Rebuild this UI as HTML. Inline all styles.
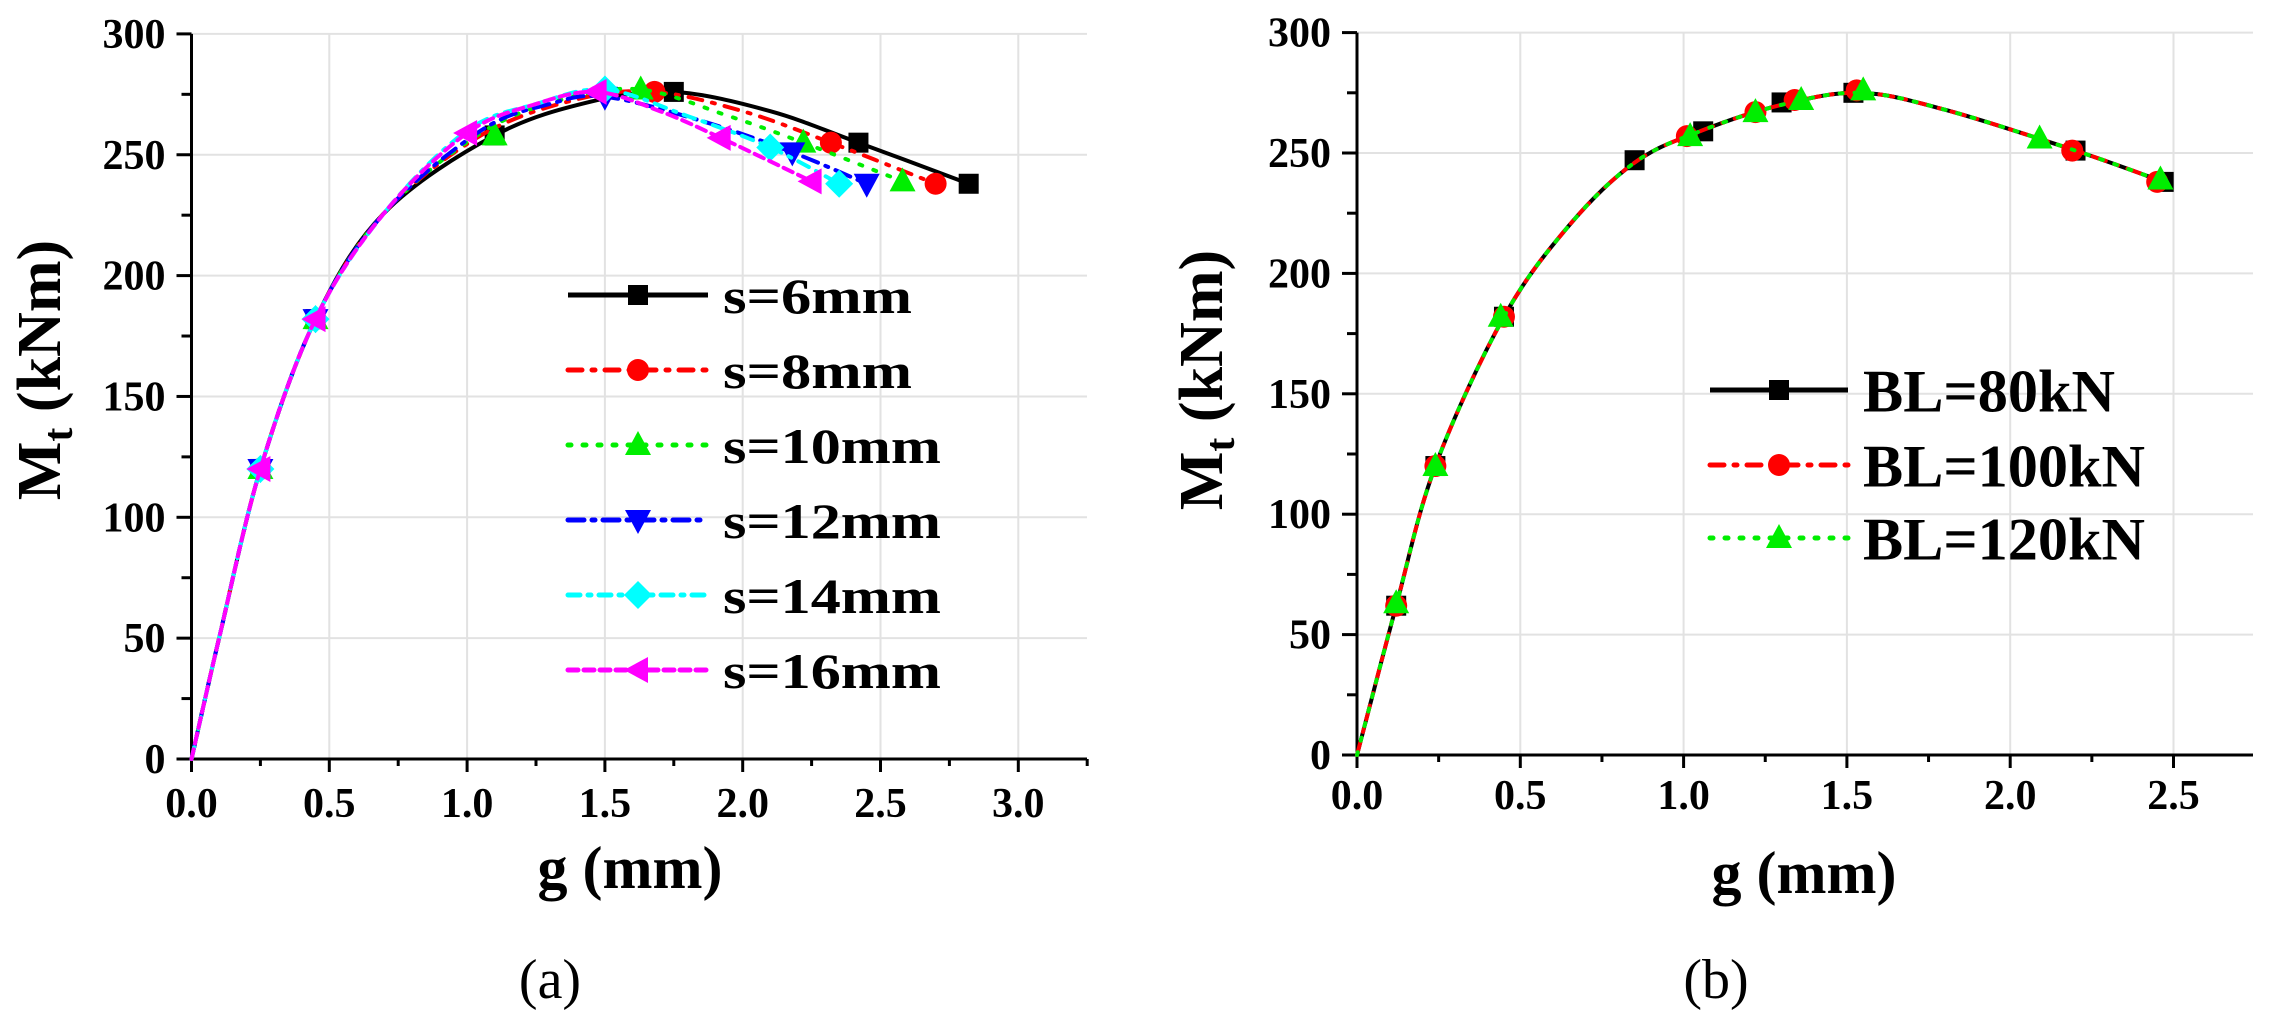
<!DOCTYPE html>
<html><head><meta charset="utf-8"><style>
html,body{margin:0;padding:0;background:#fff;}
svg{display:block;}
</style></head><body>
<svg id="s" width="2280" height="1023" viewBox="0 0 2280 1023" xmlns="http://www.w3.org/2000/svg">
<rect width="2280" height="1023" fill="#fff"/>
<g id="g"></g>
<text font-family="Liberation Serif" font-weight="700" x="630" y="888" font-size="60" text-anchor="middle">g (mm)</text>
<text font-family="Liberation Serif" font-weight="700" x="1804" y="893" font-size="60" text-anchor="middle">g (mm)</text>
<text font-family="Liberation Serif" x="550" y="998" font-size="56" text-anchor="middle">(a)</text>
<text font-family="Liberation Serif" x="1716" y="998" font-size="56" text-anchor="middle">(b)</text>
<text font-family="Liberation Serif" font-weight="700" transform="translate(60,370) rotate(-90)" font-size="62" text-anchor="middle">M<tspan font-size="42" dy="12">t</tspan><tspan dy="-12"> (kNm)</tspan></text>
<text font-family="Liberation Serif" font-weight="700" transform="translate(1222,380) rotate(-90)" font-size="62" text-anchor="middle">M<tspan font-size="42" dy="12">t</tspan><tspan dy="-12"> (kNm)</tspan></text>
</svg>
<script>
const NS="http://www.w3.org/2000/svg";
const G=document.getElementById('g');
function el(t,a){const e=document.createElementNS(NS,t);for(const k in a)e.setAttribute(k,a[k]);G.appendChild(e);return e;}
function txt(x,y,s,a){const e=el('text',Object.assign({x:x,y:y,'font-family':'Liberation Serif','font-weight':'700'},a));e.textContent=s;return e;}
function axes(P){
  const X=v=>P.x0+v*P.sx, Y=v=>P.y0-v*P.sy;
  for(let v=50;v<=300;v+=50) el('line',{x1:P.x0,x2:P.xe,y1:Y(v),y2:Y(v),stroke:'#e2e2e2','stroke-width':2});
  for(let v=0.5;v<=P.xm+1e-6;v+=0.5) el('line',{x1:X(v),x2:X(v),y1:Y(300),y2:P.y0,stroke:'#e2e2e2','stroke-width':2});
  el('line',{x1:P.x0,x2:P.x0,y1:Y(300),y2:P.y0,stroke:'#000','stroke-width':3});
  el('line',{x1:P.x0,x2:P.xe,y1:P.y0,y2:P.y0,stroke:'#000','stroke-width':3});
  for(let v=0;v<=300;v+=25){const maj=v%50==0;el('line',{x1:P.x0-(maj?15:10),x2:P.x0,y1:Y(v),y2:Y(v),stroke:'#000','stroke-width':3});
    if(maj) txt(P.x0-26,Y(v)+14,String(v),{'font-size':42,'text-anchor':'end'});}
  for(let v=0;v<=P.xm+0.26;v+=0.25){const maj=Math.abs(v*2-Math.round(v*2))<1e-6;const xx=X(v);if(xx>P.xe+1)break;
    el('line',{x1:xx,x2:xx,y1:P.y0,y2:P.y0+(maj?13:7),stroke:'#000','stroke-width':3});
    if(maj&&v<=P.xm+1e-6) txt(xx,P.ty,v.toFixed(1),{'font-size':42,'text-anchor':'middle'});}
  return [X,Y];
}
function cr(pts){let d='M'+pts[0][0]+','+pts[0][1];
  for(let i=0;i<pts.length-1;i++){const p0=pts[i-1]||pts[i],p1=pts[i],p2=pts[i+1],p3=pts[i+2]||p2;
    const c1=[p1[0]+(p2[0]-p0[0])/6,p1[1]+(p2[1]-p0[1])/6],c2=[p2[0]-(p3[0]-p1[0])/6,p2[1]-(p3[1]-p1[1])/6];
    d+=' C'+c1+' '+c2+' '+p2;}return d;}
function marker(t,x,y,c){
  if(t=='sq') el('rect',{x:x-10,y:y-10,width:20,height:20,fill:c});
  else if(t=='ci') el('circle',{cx:x,cy:y,r:11,fill:c});
  else if(t=='tu') el('polygon',{points:`${x},${y-14} ${x-13},${y+10} ${x+13},${y+10}`,fill:c});
  else if(t=='td') el('polygon',{points:`${x},${y+14} ${x-13},${y-10} ${x+13},${y-10}`,fill:c});
  else if(t=='di') el('polygon',{points:`${x},${y-14} ${x-14},${y} ${x},${y+14} ${x+14},${y}`,fill:c});
  else if(t=='tl') el('polygon',{points:`${x-14},${y} ${x+10},${y-13} ${x+10},${y+13}`,fill:c});
}
function series(X,Y,S){
  const pts=S.c.map(p=>[+X(p[0]).toFixed(1),+Y(p[1]).toFixed(1)]);
  el('path',{d:cr(pts),fill:'none',stroke:S.col,'stroke-width':4,'stroke-dasharray':S.da||'none','stroke-linecap':S.da?'round':'butt'});
  S.m.forEach(p=>marker(S.mk,X(p[0]),Y(p[1]),S.col));
}
function legend(x1,x2,xm,xt,y,S,label,fs,tl){
  el('line',{x1:x1,x2:x2,y1:y,y2:y,stroke:S.col,'stroke-width':5,'stroke-dasharray':S.da||'none','stroke-linecap':S.da?'round':'butt'});
  marker(S.mk,xm,y,S.col);
  const a={'font-size':fs,'text-anchor':'start'};if(tl){a.textLength=tl;a.lengthAdjust='spacingAndGlyphs';}
  txt(xt,y+fs*0.36,label,a);
}
const base=[[0,0],[0.1,50],[0.25,120],[0.45,182],[0.7,226]];
const A=[
 {col:'#000',mk:'sq',c:base.concat([[1.1,258],[1.45,272],[1.75,276],[2.1,268],[2.42,255],[2.82,238]]),m:[[0.25,120],[0.45,182],[1.1,258],[1.75,276],[2.42,255],[2.82,238]]},
 {col:'#ff0000',mk:'ci',da:'14 10 3 10',c:base.concat([[1.05,258],[1.4,273],[1.68,276],[2.0,268],[2.32,255],[2.7,238]]),m:[[0.25,120],[0.45,182],[1.68,276],[2.32,255],[2.7,238]]},
 {col:'#00ee00',mk:'tu',da:'3 12',c:base.concat([[1.05,259],[1.35,273],[1.63,277],[1.95,266],[2.22,255],[2.58,239]]),m:[[0.25,120],[0.45,182],[1.1,258],[1.63,277],[2.22,255],[2.58,239]]},
 {col:'#0000ff',mk:'td',da:'16 8 3 8',c:base.concat([[1.05,260],[1.3,271],[1.5,274],[1.85,264],[2.18,251],[2.45,238]]),m:[[0.25,120],[0.45,182],[1.5,274],[2.18,251],[2.45,238]]},
 {col:'#00ffff',mk:'di',da:'12 8 3 8',c:base.concat([[1.0,260],[1.25,271],[1.5,277],[1.8,266],[2.1,253],[2.35,238]]),m:[[0.25,120],[0.45,182],[1.5,277],[2.1,253],[2.35,238]]},
 {col:'#ff00ff',mk:'tl',da:'10 6',c:base.concat([[1.0,259],[1.25,271],[1.47,276],[1.7,268],[1.92,257],[2.25,239]]),m:[[0.25,120],[0.45,182],[1.0,259],[1.47,276],[1.92,257],[2.25,239]]}
];
let [X,Y]=axes({x0:191.5,y0:759,sx:275.6,sy:2.417,xm:3.0,xe:1087,ty:817});
A.forEach(S=>series(X,Y,S));
const labs=['s=6mm','s=8mm','s=10mm','s=12mm','s=14mm','s=16mm'];
const lw=[189,189,218,218,218,218];
[295,370,445,520,595,670].forEach((y,i)=>legend(568,708,638,723,y,A[i],labs[i],50,lw[i]));
const bb=[[0,0],[0.12,62],[0.24,120],[0.45,182],[0.65,220],[0.85,246],[1.05,259],[1.3,270],[1.54,275],[1.8,268],[2.2,251],[2.47,238]];
const B=[
 {col:'#000',mk:'sq',c:bb,m:[[0.12,62],[0.24,120],[0.45,182],[0.85,247],[1.06,259],[1.3,271],[1.52,275],[2.2,251],[2.47,238]]},
 {col:'#ff0000',mk:'ci',da:'14 10 3 10',c:bb,m:[[0.12,62],[0.24,120],[0.45,182],[1.01,257],[1.22,267],[1.34,272],[1.53,276],[2.19,251],[2.45,238]]},
 {col:'#00ee00',mk:'tu',da:'3 12',c:bb,m:[[0.12,63],[0.24,120],[0.44,182],[1.02,257],[1.22,267],[1.36,272],[1.55,276],[2.09,256],[2.46,239]]}
];
[X,Y]=axes({x0:1357,y0:755,sx:326.6,sy:2.408,xm:2.5,xe:2253,ty:809});
B.forEach(S=>series(X,Y,S));
['BL=80kN','BL=100kN','BL=120kN'].forEach((l,i)=>legend(1710,1848,1779,1863,[390,465,538][i],B[i],l,60,[252,282,282][i]));
</script>
</body></html>
